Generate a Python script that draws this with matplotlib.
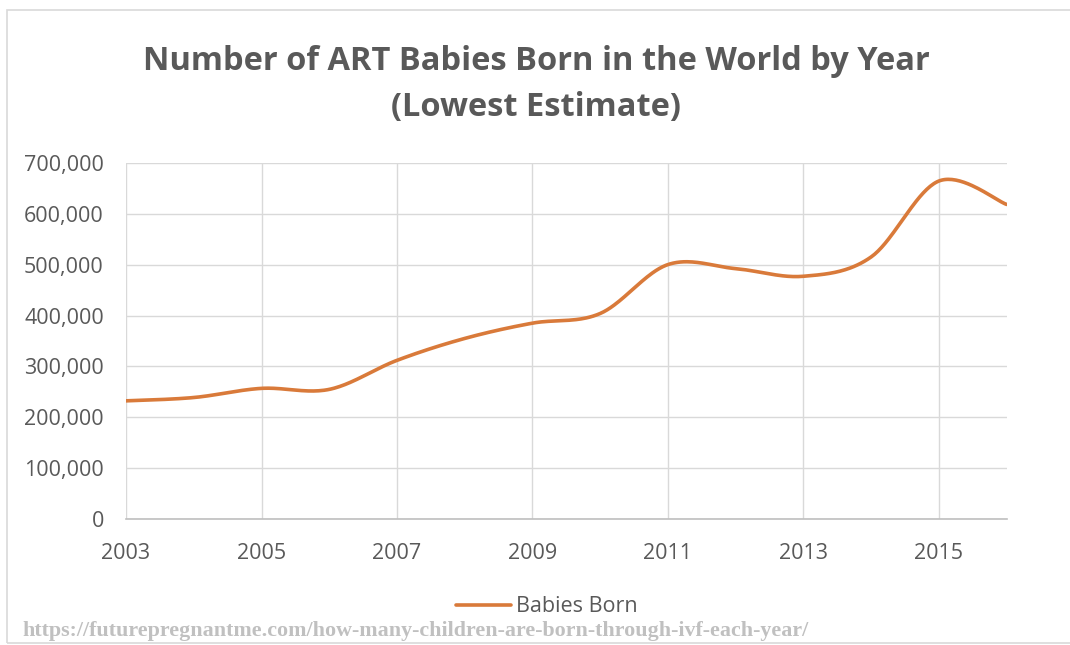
import numpy as np
import matplotlib.pyplot as plt
from matplotlib.patches import Rectangle
from matplotlib.ticker import FuncFormatter, MultipleLocator

# ====== DATA ======
years = [2003, 2004, 2005, 2006, 2007, 2008, 2009, 2010, 2011, 2012, 2013, 2014, 2015, 2016]
babies = [232500, 239000, 257000, 255000, 312000, 355000, 385000, 404000,
          500000, 492000, 477000, 515000, 664000, 618000]
xticks = [2003, 2005, 2007, 2009, 2011, 2013, 2015]
series_name = "Babies Born"
title_lines = ["Number of ART Babies Born in the World by Year", "(Lowest Estimate)"]
source = "https://futurepregnantme.com/how-many-children-are-born-through-ivf-each-year/"
# ==================

TEXT = "#595959"
ORANGE = "#D97A3A"
GRID = "#d9d9d9"

plt.rcParams['font.family'] = ['Open Sans', 'DejaVu Sans']


def smooth(x, y, n=40):
    # spreadsheet-style smoothed line: cubic bezier with 1/6 tangent control points
    p = np.column_stack([x, y]).astype(float)
    pts = np.vstack([p[0], p, p[-1]])
    out = []
    t = np.linspace(0, 1, n)[:, None]
    for i in range(1, len(pts) - 2):
        p0, p3 = pts[i], pts[i + 1]
        c1 = p0 + (pts[i + 1] - pts[i - 1]) / 6
        c2 = p3 - (pts[i + 2] - pts[i]) / 6
        seg = ((1 - t) ** 3) * p0 + 3 * ((1 - t) ** 2) * t * c1 + 3 * (1 - t) * t ** 2 * c2 + t ** 3 * p3
        out.append(seg if i == 1 else seg[1:])
    s = np.vstack(out)
    return s[:, 0], s[:, 1]


fig = plt.figure(figsize=(10.7, 6.45), dpi=100)
ax = fig.add_axes([0.1178, 0.1949, 0.8230, 0.5529])

sx, sy = smooth(years, babies)
ax.plot(sx, sy, color=ORANGE, lw=2.6, solid_capstyle='round', label=series_name)

ax.set_xlim(2003, 2016)
ax.set_ylim(0, 700000)
ax.set_xticks(xticks)
ax.yaxis.set_major_locator(MultipleLocator(100000))
ax.yaxis.set_major_formatter(FuncFormatter(lambda v, _: f"{int(v):,}"))
ax.grid(True, color=GRID, lw=1.0)
ax.set_axisbelow(True)
for side in ['top', 'right', 'left']:
    ax.spines[side].set_visible(False)
ax.spines['bottom'].set_color("#bfbfbf")
ax.spines['bottom'].set_linewidth(1.2)
ax.tick_params(length=0, labelsize=15.5, labelcolor=TEXT)
ax.tick_params(axis='y', pad=16)
ax.tick_params(axis='x', pad=17)

fig.text(0.501, 0.904, title_lines[0], ha='center', va='center', fontsize=23.5,
         fontweight='bold', color=TEXT)
fig.text(0.501, 0.834, title_lines[1], ha='center', va='center', fontsize=23.5,
         fontweight='bold', color=TEXT)

fig.legend(loc='center', bbox_to_anchor=(0.511, 0.059), frameon=False,
           fontsize=15.5, labelcolor=TEXT, handlelength=2.55, handletextpad=0.25)

fig.text(0.0205, 0.0217, source, ha='left', va='center', fontsize=15.8,
         family='Liberation Serif', fontweight='bold', color="#c0c0c0")

# light frame round the chart
fig.patches.append(Rectangle((6.5 / 1070, 2 / 645), 1.2, 1 - 12 / 645,
                             transform=fig.transFigure, fill=False,
                             edgecolor=GRID, lw=1.2))

fig.savefig("out.png", dpi=100, facecolor="white")
